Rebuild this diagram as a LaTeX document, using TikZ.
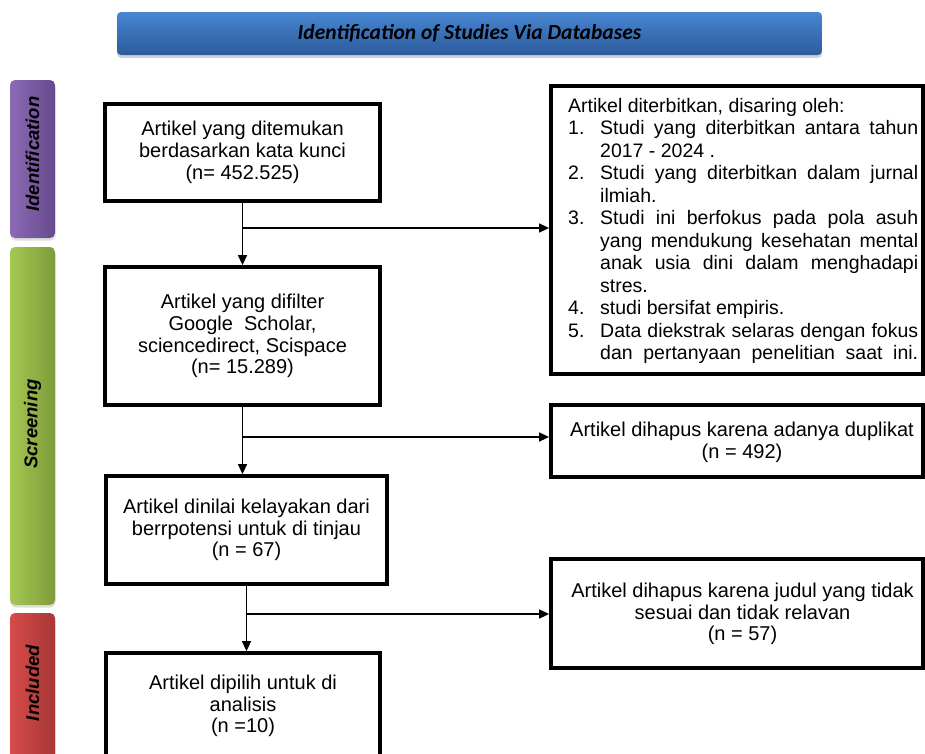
\documentclass[tikz,border=0pt]{standalone}
\usepackage{fontspec}
\setmainfont{Liberation Sans}
\newfontfamily\titlefont{Carlito}
\usetikzlibrary{arrows.meta,shadows,calc}
\hbadness=10000
\definecolor{bannertop}{HTML}{4886D3}
\definecolor{bannerbot}{HTML}{2C5B9B}
\definecolor{purpL}{HTML}{8C6AB6}
\definecolor{purpR}{HTML}{664A8C}
\definecolor{greenL}{HTML}{A5C852}
\definecolor{greenR}{HTML}{7E9C3A}
\definecolor{redL}{HTML}{D64B49}
\definecolor{redR}{HTML}{A83735}
\newcommand\critem[2]{\par\hangindent=32pt\hangafter=1\noindent\makebox[32pt][l]{#1}#2}
\begin{document}
\begin{tikzpicture}[x=1pt,y=-1pt,
  banner/.style={rounded corners=4pt, top color=bannertop, bottom color=bannerbot,
    minimum width=705pt, minimum height=43pt, inner sep=0pt,
    font=\titlefont\fontsize{21.5}{22}\selectfont\bfseries\itshape, text=black,
    drop shadow={opacity=0.35, shadow xshift=0pt, shadow yshift=-3pt}},
  stagebar/.style={rounded corners=5pt, minimum width=45pt, inner sep=0pt,
    drop shadow={opacity=0.25, shadow xshift=0.5pt, shadow yshift=-2.5pt}},
  stagelabel/.style={rotate=90, inner sep=0pt,
    font=\fontsize{18.5}{18.5}\selectfont\bfseries\itshape, text=black},
  flowbox/.style={draw=black, fill=white, line width=3.8pt, align=center, inner sep=0pt,
    font=\fontsize{20}{21.8}\selectfont, text=black,
    drop shadow={opacity=0.4, shadow xshift=1.5pt, shadow yshift=-1.5pt, fill=black!50}},
  flowtext/.style={align=center, inner sep=0pt,
    font=\fontsize{20}{21.8}\selectfont, text=black},
  conn/.style={draw=black, line width=1.5pt},
  tip/.style={-{Triangle[length=10pt,width=9pt]}}
]
\useasboundingbox (0,0) rectangle (925,753);

% title banner
\node[banner] (title) at (469.5,33.5) {Identification of Studies Via Databases};

% stage bars
\node[stagebar, left color=purpL, right color=purpR, minimum height=158pt] (sid) at (32.5,159) {};
\node[stagelabel] (sidt) at (32.5,154) {Identification};
\node[stagebar, left color=greenL, right color=greenR, minimum height=358pt] (sscr) at (32.5,426) {};
\node[stagelabel] (sscrt) at (32.5,424) {Screening};
\node[stagebar, left color=redL, right color=redR, minimum height=150pt] (sinc) at (32.5,688) {};
\node[stagelabel] (sinct) at (32.5,683) {Included};

% left flow boxes
\node[flowbox, minimum width=275pt, minimum height=97pt] (b1) at (242.5,152.5)
  {Artikel yang ditemukan\\berdasarkan kata kunci\\(n= 452.525)};
\node[flowbox, minimum width=275pt, minimum height=138pt] (b2) at (242.5,336)
  {Artikel yang difilter\\Google\ \ Scholar,\\sciencedirect, Scispace\\(n= 15.289)};
\node[flowbox, minimum width=281pt, minimum height=108pt] (b3) at (246.5,530)
  {Artikel dinilai kelayakan dari\\berrpotensi untuk di tinjau\\(n = 67)};
\node[flowbox, minimum width=274pt, minimum height=106pt] (b4) at (243,706)
  {Artikel dipilih untuk di\\analisis\\(n =10)};

% right boxes
\node[flowbox, minimum width=372pt, minimum height=288pt] (r1) at (737,230) {};
\node[anchor=west, text width=350pt, align=justify, inner sep=0pt,
  font=\fontsize{19.5}{22.5}\selectfont, text=black] (r1t) at (568,231) {%
\noindent Artikel diterbitkan, disaring oleh:
\critem{1.}{Studi yang diterbitkan antara tahun\linebreak 2017 - 2024 .}
\critem{2.}{Studi yang diterbitkan dalam jurnal\linebreak ilmiah.}
\critem{3.}{Studi ini berfokus pada pola asuh\linebreak yang mendukung kesehatan mental\linebreak anak usia dini dalam menghadapi\linebreak stres.}
\critem{4.}{studi bersifat empiris.}
\critem{5.}{Data diekstrak selaras dengan fokus\linebreak dan pertanyaan penelitian saat ini.{\parfillskip=0pt\par}}};

\node[flowbox, minimum width=372pt, minimum height=72pt] (r2) at (737,441) {};
\node[flowtext] (r2t) at (742,442.5) {Artikel dihapus karena adanya duplikat\\(n = 492)};
\node[flowbox, minimum width=372pt, minimum height=109pt] (r3) at (737,613.5) {};
\node[flowtext] (r3t) at (742.5,614) {Artikel dihapus karena judul yang tidak\\sesuai dan tidak relavan\\(n = 57)};

% connectors
\coordinate (j1) at (242.5,228);
\coordinate (j2) at (242.5,437);
\coordinate (j3) at (246.5,614);
\draw[conn, tip] (b1.south) -- (b2.north);
\draw[conn, tip] (j1) -- (j1 -| r1.west);
\draw[conn, tip] (b2.south) -- (b2.south |- b3.north);
\draw[conn, tip] (j2) -- (j2 -| r2.west);
\draw[conn, tip] (b3.south) -- (b3.south |- b4.north);
\draw[conn, tip] (j3) -- (j3 -| r3.west);
\end{tikzpicture}
\end{document}
